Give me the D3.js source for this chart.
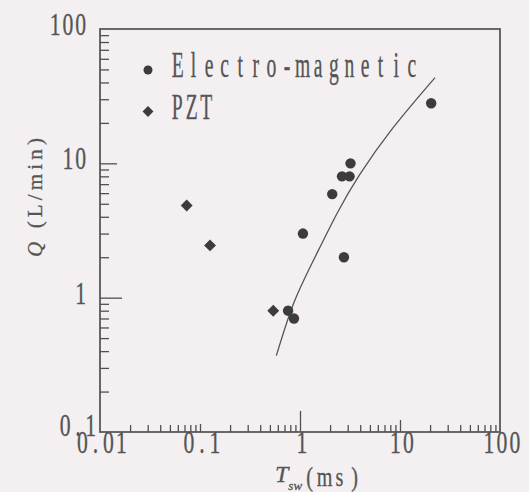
<!DOCTYPE html>
<html><head><meta charset="utf-8">
<script src="https://cdn.jsdelivr.net/npm/d3@7/dist/d3.min.js"></script>
<style>
html,body{margin:0;padding:0;background:#f4f0f1;}
svg{display:block;}
</style></head>
<body>
<script>
// ---- data ----
const emT = [20.5, 3.2, 2.63, 3.13, 2.1, 1.07, 2.75, 0.76, 0.87];
const emQ = [28, 10, 8.0, 8.0, 5.9, 3.0, 2.0, 0.80, 0.70];
const pztT = [0.0736, 0.126, 0.54];
const pztQ = [4.85, 2.45, 0.80];
const fitT = [0.58, 0.86, 1.36, 2.33, 3.98, 8.57, 22.4];
const fitQ = [0.37, 0.90, 1.89, 4.2, 8.3, 18.5, 43.5];
const xTicks = [0.01, 0.1, 1, 10, 100];
const xTickLabels = ["0.01", "0.1", "1", "10", "100"];
const yTicks = [0.1, 1, 10, 100];
const yTickLabels = ["0.1", "1", "10", "100"];
const legendLabels = ["Electro-magnetic", "PZT"];

const W = 529, H = 492;
const ink = "#555", markInk = "#3c3c3c";
const svg = d3.select("body").append("svg").attr("width", W).attr("height", H);
svg.append("rect").attr("width", W).attr("height", H).attr("fill", "#f4f0f1");

const x = d3.scaleLog().domain([0.01, 100]).range([100, 500]);
const y = d3.scaleLog().domain([0.1, 100]).range([432, 29]);

// monospace-grid text helper: each glyph centred in its cell, glyphs condensed by sx
function monoText(g, str, left, baseline, cell, size, sx) {
  const xs = Array.from(str).map((c, i) => ((left + (i + 0.5) * cell) / sx).toFixed(2));
  return g.append("text")
    .attr("x", xs.join(" ")).attr("y", baseline)
    .attr("transform", `scale(${sx},1)`)
    .attr("text-anchor", "middle")
    .attr("font-family", "'Liberation Serif', 'DejaVu Serif', serif")
    .attr("font-size", size).attr("fill", ink)
    .attr("stroke", ink).attr("stroke-width", 0.35)
    .text(str);
}

// plot frame
svg.append("rect").attr("x", 100).attr("y", 29).attr("width", 400).attr("height", 403)
  .attr("fill", "none").attr("stroke", "#505050").attr("stroke-width", 1.7);

// x axis ticks (pointing up, inside)
const xAxis = d3.axisTop(x).tickValues(
  d3.range(-2, 2).flatMap(e => d3.range(1, 10).map(m => m * Math.pow(10, e))).concat([100])
).tickFormat("").tickSizeOuter(0).tickSize(7);
const gx = svg.append("g").attr("transform", "translate(0,432)").call(xAxis);
gx.select(".domain").remove();
gx.selectAll(".tick line").attr("stroke", "#505050").attr("stroke-width", 1.3)
  .attr("y2", d => {
    const l = Math.log10(d);
    if (Math.abs(l - 0) < 1e-9) return -21;
    if (Math.abs(l - 1) < 1e-9) return -12;
    if (Math.abs(l + 1) < 1e-9) return -8;
    if (Math.abs(l - 2) < 1e-9 || Math.abs(l + 2) < 1e-9) return 0;
    return -7;
  });

// y axis ticks (pointing right, inside)
const yAxis = d3.axisRight(y).tickValues(
  d3.range(-1, 2).flatMap(e => d3.range(1, 10).map(m => m * Math.pow(10, e))).concat([100])
).tickFormat("").tickSizeOuter(0).tickSize(9);
const gy = svg.append("g").attr("transform", "translate(100,0)").call(yAxis);
gy.select(".domain").remove();
gy.selectAll(".tick line").attr("stroke", "#505050").attr("stroke-width", 1.3)
  .attr("x2", d => {
    const l = Math.log10(d);
    if (Math.abs(l - 0) < 1e-9) return 22;
    if (Math.abs(l - 1) < 1e-9) return 17;
    if (Math.abs(l - 2) < 1e-9 || Math.abs(l + 1) < 1e-9) return 0;
    return 9;
  });

// tick labels
const labels = svg.append("g");
xTicks.forEach((v, i) => {
  const s = xTickLabels[i], cell = 13;
  const cx = x(v) + 2;
  monoText(labels, s, cx - s.length * cell / 2, 453, cell, 31, 0.7);
});
yTicks.forEach((v, i) => {
  const s = yTickLabels[i], cell = 12.7;
  const right = (v === 0.1) ? 97 : 87;
  const base = y(v) + (v === 0.1 ? 4 : 6);
  monoText(labels, s, right - s.length * cell, base, cell, 31, 0.7);
});

// axis titles
const xt = svg.append("g");
xt.append("text").attr("x", 275).attr("y", 482)
  .attr("font-family", "'Liberation Serif', serif").attr("font-style", "italic")
  .attr("font-size", 24).attr("fill", ink).attr("stroke", ink).attr("stroke-width", 0.3)
  .text("T")
  .append("tspan").attr("dy", 8).attr("dx", 0).attr("font-size", 13).text("sw");
monoText(xt, "(ms)", 302, 486, 15, 28, 0.72);

const yt = svg.append("text")
  .attr("transform", "translate(42,257) rotate(-90)")
  .attr("x", 0).attr("y", 0)
  .attr("font-family", "'Liberation Serif', serif")
  .attr("font-size", 21).attr("fill", ink).attr("stroke", ink).attr("stroke-width", 0.3)
  .attr("textLength", 119).attr("lengthAdjust", "spacing");
yt.append("tspan").attr("font-style", "italic").text("Q");
yt.append("tspan").text(" (L/min)");

// fitted curve
const pts = fitT.map((t, i) => [x(t), y(fitQ[i])]);
svg.append("path").attr("d", d3.line().curve(d3.curveNatural)(pts))
  .attr("fill", "none").attr("stroke", "#555").attr("stroke-width", 1.3);

// markers
const diamond = d3.symbol().type(d3.symbolDiamond2).size(90);
svg.append("g").selectAll("circle").data(emT).join("circle")
  .attr("cx", d => x(d)).attr("cy", (d, i) => y(emQ[i])).attr("r", 5.2)
  .attr("fill", markInk);
svg.append("g").selectAll("path").data(pztT).join("path")
  .attr("transform", (d, i) => `translate(${x(d)},${y(pztQ[i])})`)
  .attr("d", diamond).attr("fill", markInk);

// legend
const lg = svg.append("g");
lg.append("circle").attr("cx", 148).attr("cy", 70).attr("r", 4.5).attr("fill", markInk);
lg.append("path").attr("transform", "translate(148,111.5)").attr("d", d3.symbol().type(d3.symbolDiamond2).size(75)).attr("fill", markInk);
monoText(lg, legendLabels[0], 170, 77, 15.6, 35, 0.56);
monoText(lg, legendLabels[1], 170, 119, 14.5, 35, 0.56);
</script>
</body></html>
